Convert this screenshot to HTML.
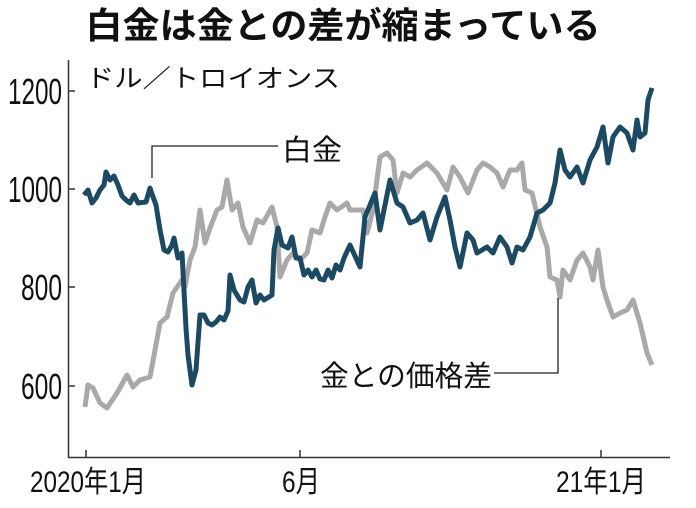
<!DOCTYPE html>
<html><head><meta charset="utf-8"><style>
html,body{margin:0;padding:0;background:#fff;}
svg{display:block;}
text{font-family:"Liberation Sans","Noto Sans CJK JP",sans-serif;fill:#111;}
</style></head><body>
<svg width="696" height="508" viewBox="0 0 696 508" xmlns="http://www.w3.org/2000/svg">
<text x="343" y="38" font-size="36" font-weight="bold" text-anchor="middle" textLength="515" lengthAdjust="spacingAndGlyphs">白金は金との差が縮まっている</text>
<text x="86" y="87" font-size="25" textLength="254" lengthAdjust="spacingAndGlyphs">ドル／トロイオンス</text>
<line x1="68.5" y1="60" x2="68.5" y2="458" stroke="#333" stroke-width="1.5"/>
<line x1="68" y1="457.5" x2="670" y2="457.5" stroke="#333" stroke-width="1.5"/>
<g stroke="#333" stroke-width="1.5">
<line x1="68" y1="91" x2="75" y2="91"/><line x1="68" y1="189" x2="75" y2="189"/>
<line x1="68" y1="287" x2="75" y2="287"/><line x1="68" y1="386" x2="75" y2="386"/>
<line x1="86" y1="450" x2="86" y2="457"/><line x1="300" y1="450" x2="300" y2="457"/><line x1="601" y1="450" x2="601" y2="457"/>
</g>
<g font-size="36" text-anchor="end">
<text x="62" y="104" textLength="54" lengthAdjust="spacingAndGlyphs">1200</text>
<text x="62" y="202" textLength="54" lengthAdjust="spacingAndGlyphs">1000</text>
<text x="62" y="300" textLength="41" lengthAdjust="spacingAndGlyphs">800</text>
<text x="62" y="399" textLength="41" lengthAdjust="spacingAndGlyphs">600</text>
</g>
<g font-size="30">
<text x="30" y="492" textLength="116" lengthAdjust="spacingAndGlyphs">2020年1月</text>
<text x="282" y="492" textLength="38" lengthAdjust="spacingAndGlyphs">6月</text>
<text x="556" y="492" textLength="90" lengthAdjust="spacingAndGlyphs">21年1月</text>
</g>
<polyline fill="none" stroke="#a9a9a9" stroke-width="5" stroke-linejoin="round" points="85,407 88,385 93,388 100,403 107,408 117,393 127,375 133,387 140,380 150,377 155,350 160,323 167,317 173,293 182,280 185,287 190,260 195,247 200,210 205,243 210,228 217,210 222,207 227,180 232,210 238,203 243,227 250,243 257,220 263,223 272,207 277,227 280,277 287,260 293,253 300,260 307,253 312,230 320,233 325,217 330,203 337,210 347,203 350,210 363,210 367,233 373,210 380,157 387,153 393,160 397,193 403,173 410,177 417,170 427,163 437,173 447,190 453,167 460,177 468,193 477,170 483,163 490,167 497,173 503,187 510,170 517,170 522,163 525,190 532,193 540,227 547,247 550,277 557,280 560,297 563,270 570,280 577,260 583,253 590,267 593,280 598,250 603,287 607,300 613,317 620,313 627,310 633,300 640,323 647,353 652,365"/>
<polyline fill="none" stroke="#1d4a63" stroke-width="5" stroke-linejoin="round" points="84,195 88,190 92,203 96,198 100,190 104,185 106,172 110,180 114,176 118,185 122,196 126,200 130,203 134,195 138,203 146,202 150,188 152,194 156,205 160,230 164,250 168,252 172,245 174,238 178,258 182,253 186,328 188,355 192,385 196,370 200,315 204,315 208,323 212,325 216,322 220,317 224,320 228,311 230,275 234,290 240,300 244,302 248,287 252,280 256,303 260,295 264,300 272,295 274,250 278,228 282,245 288,248 292,237 296,258 300,258 304,275 308,270 312,277 316,270 320,279 324,280 328,270 332,278 336,265 340,270 344,258 350,245 360,267 365,217 370,205 375,193 380,230 390,180 397,203 403,207 410,223 417,220 423,213 430,240 437,217 445,197 450,220 455,247 460,267 467,233 473,240 477,253 487,247 493,253 500,237 507,247 512,263 517,247 523,250 530,237 537,213 543,210 550,203 555,183 560,150 565,170 570,177 577,167 583,183 590,160 597,147 603,127 608,163 613,137 620,127 627,133 633,150 637,120 640,137 645,133 648,100 652,88"/>
<polyline fill="none" stroke="#222" stroke-width="1.3" points="152,178 152,146 278,146"/>
<text x="282" y="160" font-size="29" textLength="60" lengthAdjust="spacingAndGlyphs">白金</text>
<polyline fill="none" stroke="#222" stroke-width="1.3" points="494,373 558,373 558,298"/>
<text x="320" y="386" font-size="29" textLength="172" lengthAdjust="spacingAndGlyphs">金との価格差</text>
</svg>
</body></html>
